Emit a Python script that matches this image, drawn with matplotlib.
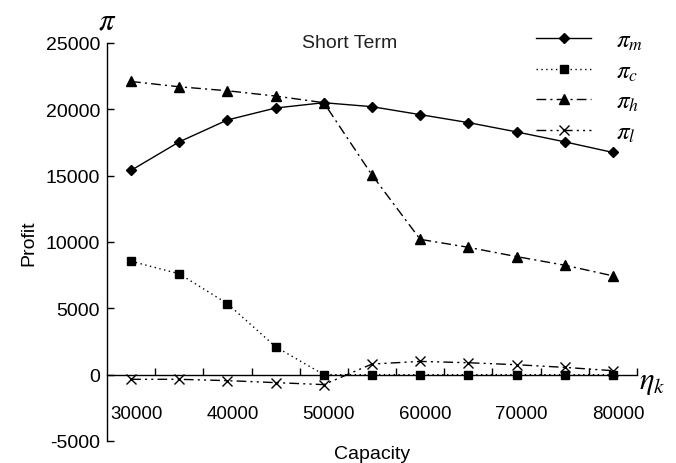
import matplotlib
matplotlib.use("Agg")
import matplotlib.pyplot as plt
import matplotlib.transforms as mtransforms
from matplotlib.ticker import FixedLocator

plt.rcParams['font.family'] = ['Liberation Sans', 'DejaVu Sans']
plt.rcParams['mathtext.fontset'] = 'stix'

capacity = [30000, 35000, 40000, 45000, 50000, 55000, 60000, 65000, 70000, 75000, 80000]
pi_m = [15400, 17550, 19200, 20100, 20500, 20200, 19600, 19000, 18300, 17550, 16750]
pi_c = [8550, 7600, 5350, 2100, 0, 0, 0, 0, 0, 0, 0]
pi_h = [22100, 21700, 21400, 21000, 20500, 15050, 10200, 9600, 8900, 8250, 7450]
pi_l = [-350, -350, -450, -600, -750, 800, 1000, 900, 750, 550, 300]
labels = [r'$\pi_m$', r'$\pi_c$', r'$\pi_h$', r'$\pi_l$']
x_tick_labels = ['30000', '40000', '50000', '60000', '70000', '80000']
y_ticks = [-5000, 0, 5000, 10000, 15000, 20000, 25000]

fig = plt.figure(figsize=(6.76, 4.64), dpi=100)
ax = fig.add_axes([107/676, 1-442/464, 530/676, 398/464])

idx = list(range(len(capacity)))
ax.plot(idx, pi_m, color='black', lw=1.0, marker='D', ms=5.5, label=labels[0])
ax.plot(idx, pi_c, color='black', lw=1.0, ls=(0, (1, 2.5)), marker='s', ms=5.5, label=labels[1])
ax.plot(idx, pi_h, color='black', lw=1.0, ls=(0, (7, 3, 1.5, 3)), marker='^', ms=6.5, label=labels[2])
ax.plot(idx, pi_l, color='black', lw=1.0, ls=(0, (7, 3, 1.5, 3, 1.5, 3)), marker='x', ms=6.5, mew=1.0, label=labels[3])

ax.set_xlim(-0.5, len(capacity) - 0.5)
ax.set_ylim(-5000, 25000)

for s in ['top', 'right']:
    ax.spines[s].set_visible(False)
ax.spines['bottom'].set_position(('data', 0))
ax.spines['left'].set_linewidth(1.0)
ax.spines['bottom'].set_linewidth(1.0)

ax.set_yticks(y_ticks)
ax.set_yticklabels([str(v) for v in y_ticks])
ax.tick_params(axis='y', direction='in', length=5, width=1.0, labelsize=14, pad=5)

ax.set_xticks(idx[::2])
ax.set_xticklabels(x_tick_labels)
ax.xaxis.set_minor_locator(FixedLocator([i + 0.5 for i in idx]))
ax.tick_params(axis='x', which='major', length=0, labelsize=13.5, pad=22)
ax.tick_params(axis='x', which='minor', direction='in', length=5, width=1.0)
offset = mtransforms.ScaledTranslation(5/100, 0, fig.dpi_scale_trans)
for lab in ax.get_xticklabels():
    lab.set_transform(lab.get_transform() + offset)

ax.set_ylabel('Profit', fontsize=14, labelpad=6)
ax.text(0.5, (442-455)/398, 'Capacity', transform=ax.transAxes, ha='center', va='center', fontsize=14)

ax.text(0.457, 1.0, 'Short Term', transform=ax.transAxes, ha='center', va='center', fontsize=14, color='#222222')
fig.text(107/676, 1-22/464, r'$\pi$', ha='center', va='center', fontsize=22)
fig.text(652/676, 1-382/464, r'$\eta_k$', ha='center', va='center', fontsize=22)

leg = ax.legend(loc='upper left', bbox_to_anchor=(536/676, 1-29/464), bbox_transform=fig.transFigure,
                frameon=False, fontsize=18, handlelength=2.2, handletextpad=1.0, labelspacing=0.25,
                borderpad=0, borderaxespad=0)

fig.savefig('out.png', dpi=100)
